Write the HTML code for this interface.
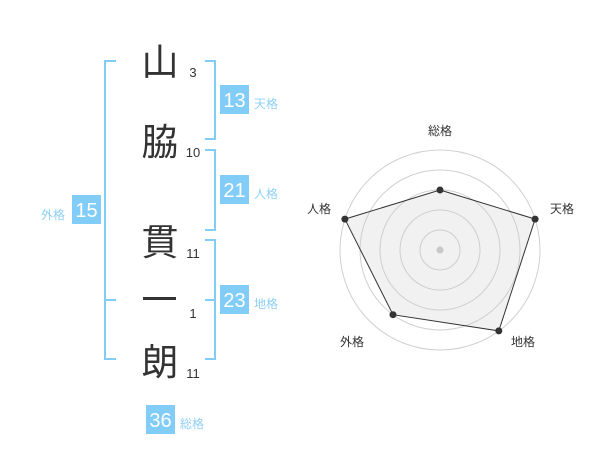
<!DOCTYPE html>
<html><head><meta charset="utf-8"><style>
html,body{margin:0;padding:0;background:#fff;}
svg{display:block;}
text{font-family:"Liberation Sans","Noto Sans CJK JP",sans-serif;}
.cj{font-family:"Noto Sans CJK JP","Liberation Sans",sans-serif;}
</style></head><body>
<svg width="600" height="470" viewBox="0 0 600 470" xmlns="http://www.w3.org/2000/svg">
<g fill="none" stroke="#81cdf8" stroke-width="2">
  <polyline points="116,61 105,61 105,359 116,359"/>
  <line x1="105" y1="300" x2="116" y2="300"/>
  <polyline points="205,61 215,61 215,139 205,139"/>
  <polyline points="205,150 215,150 215,230 205,230"/>
  <polyline points="205,240 215,240 215,359 205,359"/>
  <line x1="205" y1="300" x2="215" y2="300"/>
</g>
<g class="cj" fill="#333" font-size="37" text-anchor="middle">
  <text x="160" y="75" class="cj">山</text>
  <text x="160" y="155" class="cj">脇</text>
  <text x="160" y="255" class="cj">貫</text>
  <text x="160" y="375" class="cj">朗</text>
</g>
<rect x="143" y="297" width="33" height="3" fill="#333"/>
<g fill="#333" font-size="13" text-anchor="middle">
  <text x="193" y="77">3</text>
  <text x="193" y="157">10</text>
  <text x="193" y="258">11</text>
  <text x="193" y="318">1</text>
  <text x="193" y="378">11</text>
</g>
<g fill="#81cdf8">
  <rect x="220" y="85" width="29" height="29"/>
  <rect x="220" y="175" width="29" height="29"/>
  <rect x="220" y="285" width="29" height="29"/>
  <rect x="72" y="195" width="29" height="29"/>
  <rect x="146" y="405" width="29" height="29"/>
</g>
<g fill="#fff" font-size="20" text-anchor="middle">
  <text x="234.5" y="107">13</text>
  <text x="234.5" y="197">21</text>
  <text x="234.5" y="307">23</text>
  <text x="86.5" y="217">15</text>
  <text x="160.5" y="427">36</text>
</g>
<g fill="#8fd0f5" font-size="12" class="cj">
  <text x="254" y="108" class="cj">天格</text>
  <text x="254" y="198" class="cj">人格</text>
  <text x="254" y="308" class="cj">地格</text>
  <text x="41" y="219" class="cj">外格</text>
  <text x="180" y="428" class="cj">総格</text>
</g>
<g fill="none" stroke="#d0d0d0" stroke-width="1">
  <circle cx="440" cy="250" r="20"/>
  <circle cx="440" cy="250" r="40"/>
  <circle cx="440" cy="250" r="60"/>
  <circle cx="440" cy="250" r="80"/>
  <circle cx="440" cy="250" r="100"/>
</g>
<polygon points="440,190 535.1,219.1 498.8,330.9 393,314.7 344.9,219.1" fill="rgba(200,200,200,0.25)" stroke="#333" stroke-width="1"/>
<circle cx="440" cy="250" r="3.5" fill="#c8c8c8"/>
<g fill="#333">
  <circle cx="440" cy="190" r="3.5"/>
  <circle cx="535.1" cy="219.1" r="3.5"/>
  <circle cx="498.8" cy="330.9" r="3.5"/>
  <circle cx="393" cy="314.7" r="3.5"/>
  <circle cx="344.9" cy="219.1" r="3.5"/>
</g>
<g fill="#333" font-size="12" text-anchor="middle" class="cj">
  <text x="440" y="135" class="cj">総格</text>
  <text x="562" y="213" class="cj">天格</text>
  <text x="319" y="213" class="cj">人格</text>
  <text x="352" y="346" class="cj">外格</text>
  <text x="523" y="346" class="cj">地格</text>
</g>
</svg>
</body></html>
